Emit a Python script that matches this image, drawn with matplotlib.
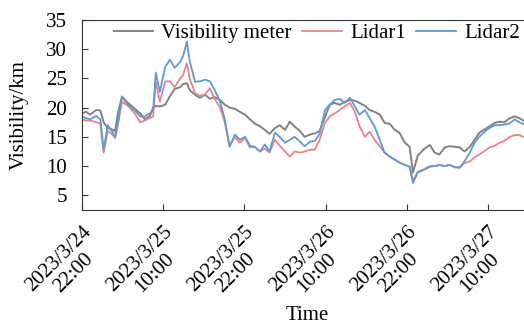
import pandas as pd
import matplotlib
matplotlib.use('Agg')
import matplotlib.pyplot as plt
import matplotlib.transforms as mtransforms

# sample times, hours after 2023-03-24 22:00
hours = [0, 0.6, 1.2, 2.1, 2.7, 3.2, 3.8, 4.4, 4.9, 5.3, 5.9, 6.8, 7.8, 8.6, 9.3,
         10.0, 10.5, 10.9, 11.5, 12.3, 13.0, 13.7, 14.5, 14.9, 15.5, 15.9, 16.7,
         17.4, 18.2, 18.9, 19.6, 20.4, 21.1, 21.8, 22.6, 23.3, 24.1, 24.8, 25.5,
         26.3, 27.0, 27.7, 28.5, 29.2, 30.0, 30.7, 31.4, 32.2, 32.9, 33.7, 34.4,
         35.1, 35.9, 36.6, 37.3, 38.1, 38.8, 39.6, 40.3, 41.0, 41.8, 42.5, 43.2,
         44.0, 44.7, 45.5, 46.2, 46.9, 47.7, 48.4, 48.9, 49.6, 50.6, 51.4, 52.1,
         52.8, 53.6, 54.3, 55.1, 55.8, 56.5, 57.3, 58.0, 58.7, 59.5, 60.2, 61.0,
         61.7, 62.4, 63.2, 63.9, 64.6, 65.2]

meter = [19.0, 19.3, 18.8, 19.6, 19.5, 17.5, 16.5, 16.3, 16.0, 19.0, 21.9, 20.8,
         19.8, 19.0, 18.0, 18.5, 20.0, 20.3, 20.2, 20.5, 22.0, 23.2, 23.5, 24.0,
         24.2, 23.0, 22.2, 21.7, 22.2, 21.5, 21.8, 21.3, 20.5, 20.0, 19.8, 19.3,
         18.8, 18.0, 17.3, 16.8, 16.2, 15.5, 16.5, 17.0, 16.2, 17.6, 16.8, 16.0,
         15.0, 15.4, 15.6, 16.0, 18.4, 20.5, 20.8, 20.5, 21.0, 21.3, 21.2, 20.8,
         20.3, 19.6, 19.3, 18.8, 17.4, 17.2, 16.2, 15.7, 14.0, 13.3, 8.9, 11.8,
         13.0, 13.6, 12.3, 12.0, 13.2, 13.4, 13.3, 13.2, 12.5, 13.3, 14.5, 15.7,
         16.3, 16.8, 17.4, 17.6, 17.5, 18.2, 18.5, 18.2, 17.8]

lidar1 = [18.0, 17.8, 17.8, 17.5, 17.3, 12.3, 16.0, 15.5, 14.8, 17.0, 21.0, 20.3,
          19.0, 17.5, 17.8, 18.2, 18.5, 24.5, 21.0, 24.5, 24.5, 23.5, 25.0, 25.5,
          27.6, 25.0, 22.5, 22.0, 22.3, 23.3, 21.5, 20.0, 17.5, 13.5, 15.0, 14.0,
          14.8, 13.2, 13.3, 12.5, 13.0, 12.3, 14.5, 13.5, 12.5, 11.6, 12.5, 12.3,
          12.5, 12.8, 12.8, 14.5, 17.4, 18.5, 19.0, 19.6, 20.2, 20.8, 19.3, 16.8,
          15.0, 15.9, 14.5, 13.4, 12.3, 11.6, 11.1, 10.6, 10.2, 9.9, 7.5, 9.0,
          9.5, 10.0, 10.0, 10.2, 10.0, 10.2, 9.8, 9.8, 10.5, 10.8, 11.5, 12.0,
          12.6, 13.2, 13.5, 14.0, 14.3, 15.0, 15.3, 15.3, 15.0]

lidar2 = [18.5, 18.2, 18.0, 18.6, 18.0, 12.8, 17.0, 16.0, 15.0, 17.5, 21.8, 20.5,
          19.5, 18.5, 18.5, 19.0, 19.5, 26.0, 22.7, 27.0, 28.2, 26.8, 27.8, 28.7,
          31.3, 28.0, 24.4, 24.5, 24.8, 24.5, 23.0, 21.0, 18.0, 13.3, 15.4, 14.5,
          15.0, 13.5, 13.3, 12.5, 13.7, 12.5, 15.7, 15.0, 14.0, 14.5, 15.0, 14.2,
          13.4, 14.2, 14.3, 15.5, 19.6, 20.5, 21.3, 21.5, 20.8, 21.7, 20.2, 18.8,
          19.6, 18.2, 16.8, 14.5, 12.3, 11.6, 11.1, 10.6, 10.2, 9.9, 7.1, 8.9,
          9.4, 9.9, 10.0, 10.2, 10.0, 10.2, 9.8, 9.7, 10.8, 12.3, 14.0, 15.0,
          15.9, 16.5, 17.0, 17.0, 17.1, 17.3, 18.0, 17.5, 17.2]

start = pd.Timestamp('2023-03-24 22:00')
times = start + pd.to_timedelta(hours, unit='h')

plt.rcParams['font.family'] = ['Liberation Serif', 'DejaVu Serif']
fs = 15

fig = plt.figure(figsize=(5.24, 3.27), dpi=100)
ax = fig.add_axes([0.1565, 0.358, 0.8435, 0.581])

ax.plot(times, meter, color='#828282', lw=1.4, label='Visibility meter')
ax.plot(times, lidar1, color='#e8838c', lw=1.3, label='Lidar1')
ax.plot(times, lidar2, color='#5f9bd0', lw=1.3, label='Lidar2')

ax.set_xlim(start, start + pd.Timedelta(hours=65.3))
ax.set_ylim(2.5, 35)
ax.set_yticks([5, 10, 15, 20, 25, 30, 35])

ticks = [start + pd.Timedelta(hours=12 * i) for i in range(6)]
ax.set_xticks(ticks)
labels = ax.set_xticklabels(
    [t.strftime('%Y/%-m/%-d') + '\n' + t.strftime('%H:%M') for t in ticks],
    rotation=45, ha='right', rotation_mode='anchor', multialignment='center',
    fontsize=15, linespacing=1.1)
shift = mtransforms.ScaledTranslation(6 / 72, 0, fig.dpi_scale_trans)
for lab in labels:
    lab.set_transform(lab.get_transform() + shift)

ax.tick_params(direction='in', labelsize=fs, length=4, color='#333333')
ax.tick_params(axis='x', pad=9, labelsize=15)
ax.tick_params(axis='y', pad=11)
ax.spines['right'].set_visible(False)
for s in ['left', 'top', 'bottom']:
    ax.spines[s].set_color('#333333')

ax.set_xlabel('Time', fontsize=fs, va='top')
ax.xaxis.set_label_coords(0.51, -0.505)
ax.set_ylabel('Visibility/km', fontsize=fs, labelpad=12)

ax.legend(loc='upper right', ncol=3, frameon=False, fontsize=fs,
          bbox_to_anchor=(1.01, 1.025), handlelength=1.9, columnspacing=0.5,
          handletextpad=0.4, borderaxespad=0)

fig.savefig('out.png', dpi=100)
